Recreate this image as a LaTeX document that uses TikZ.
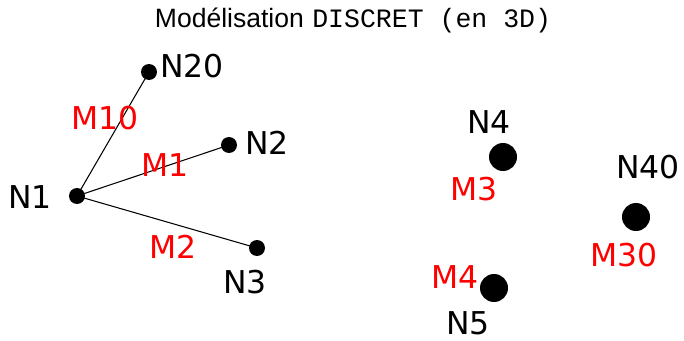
\documentclass[tikz,border=0pt]{standalone}
\usepackage{fontspec}
\setmainfont{DejaVu Sans}
\newfontfamily\titlesans{Liberation Sans}
\newfontfamily\titlemono{Liberation Mono}
\usetikzlibrary{positioning}

\begin{document}
\begin{tikzpicture}[x=0.02cm,y=-0.02cm]
  \tikzstyle{point}=[circle,fill=black,inner sep=0pt,minimum size=16*0.02cm]
  \tikzstyle{big point}=[point,minimum size=28*0.02cm]
  \tikzstyle{nlabel}=[inner sep=0pt,font=\fontsize{17.9pt}{20pt}\selectfont]
  \tikzstyle{mlabel}=[nlabel,text=red]
  \tikzstyle{bar}=[line width=0.6pt]
  \useasboundingbox (0,0) rectangle (684,341);
  \node [anchor=base,inner sep=0pt,font=\fontsize{15.1pt}{18pt}\selectfont] (title) at (353,28)
    {{\titlesans Modélisation} {\titlemono DISCRET (en 3D)}};
  \node [point] (n1) at (77,196) {};
  \node [point] (n20) at (149,72) {};
  \node [point] (n2) at (229,145) {};
  \node [point] (n3) at (257,248) {};
  \node [big point] (n4) at (503,157) {};
  \node [big point] (n40) at (636,217) {};
  \node [big point] (n5) at (494,288) {};
  \draw [bar] (n1.center) -- (n20.center);
  \draw [bar] (n1.center) -- (n2.center);
  \draw [bar] (n1.center) -- (n3.center);
  \node [nlabel] (l1) at (30,197) {N1};
  \node [nlabel] (l20) at (192,66) {N20};
  \node [nlabel] (l2) at (267,143) {N2};
  \node [nlabel] (l3) at (245,282) {N3};
  \node [nlabel] (l4) at (489,122) {N4};
  \node [nlabel] (l40) at (648,167) {N40};
  \node [nlabel] (l5) at (468,323) {N5};
  \node [mlabel] (m10) at (105,118) {M10};
  \node [mlabel] (m1) at (165,165) {M1};
  \node [mlabel] (m2) at (173,247) {M2};
  \node [mlabel] (m3) at (474,189) {M3};
  \node [mlabel] (m30) at (624,255) {M30};
  \node [mlabel] (m4) at (455,277) {M4};
\end{tikzpicture}
\end{document}
